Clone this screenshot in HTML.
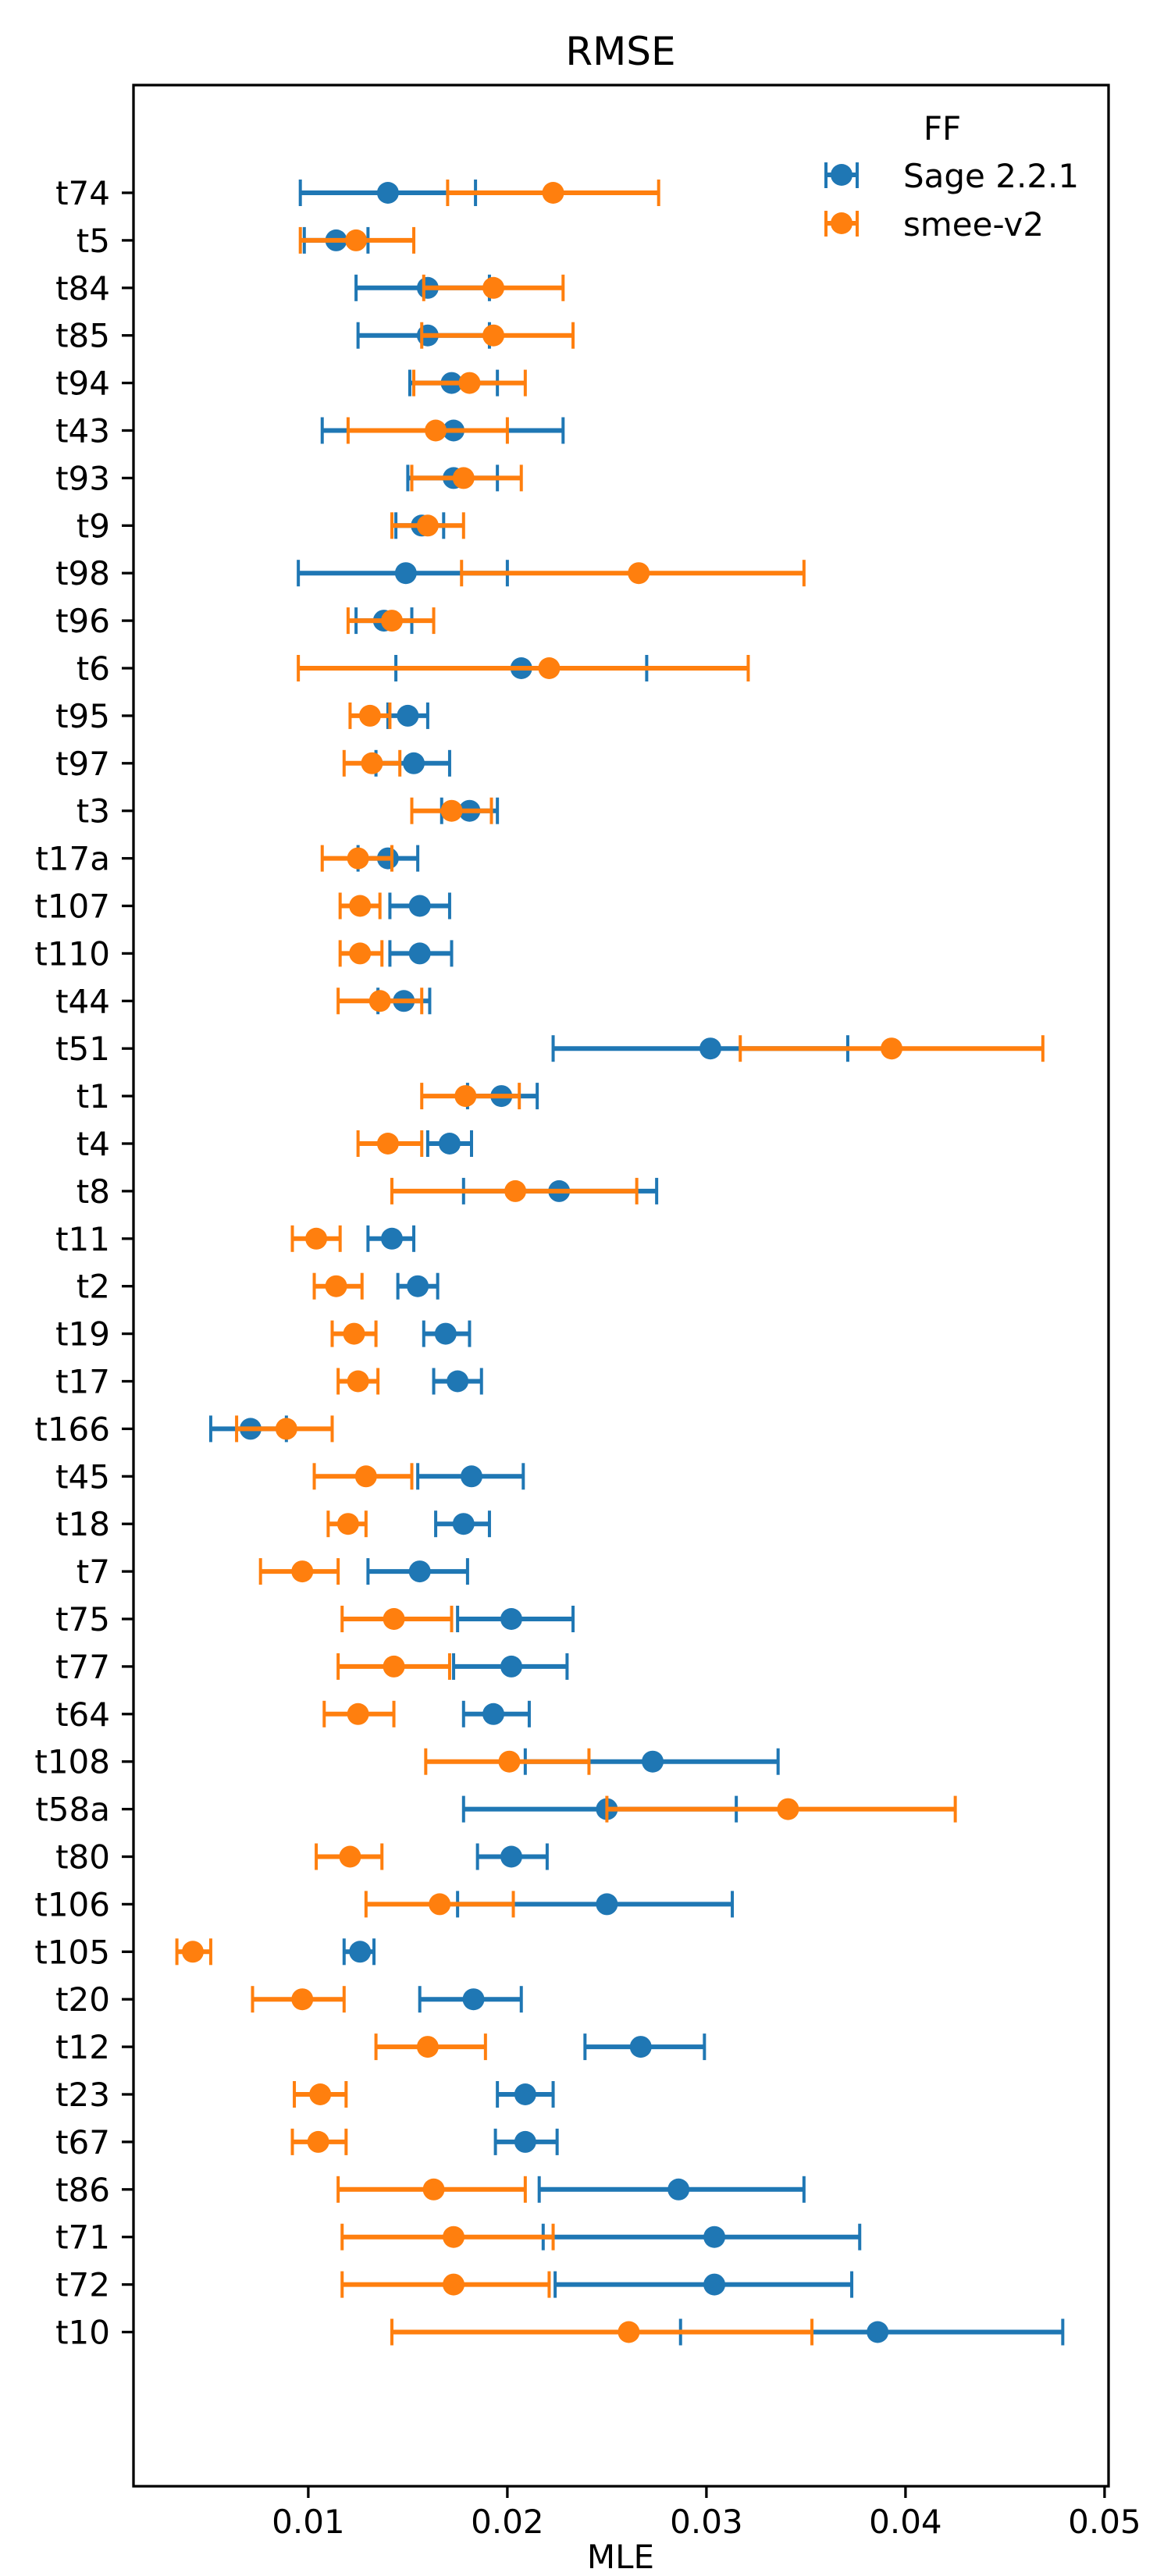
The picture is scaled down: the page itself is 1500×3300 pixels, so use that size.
<!DOCTYPE html>
<html><head><meta charset="utf-8"><style>
html,body{margin:0;padding:0;background:#fff;}
svg{display:block;font-family:"DejaVu Sans","Liberation Sans",sans-serif;}
</style></head><body>
<svg id="chart" width="1500" height="3300" viewBox="0 0 1500 3300" xmlns="http://www.w3.org/2000/svg">
<rect width="1500" height="3300" fill="#fff"/>
<text x="795" y="83" font-size="50" text-anchor="middle">RMSE</text>
<g id="marks"></g>
<g id="yaxis"></g>
<g id="xaxis"></g>
<rect x="171" y="109" width="1249" height="3076" fill="none" stroke="#000" stroke-width="3.3"/>
<text x="795" y="3290" font-size="42" text-anchor="middle">MLE</text>
<g>
<text x="1207" y="179" font-size="42" text-anchor="middle">FF</text>
<g>
<line x1="1057" y1="224" x2="1099" y2="224" stroke="#1f77b4" stroke-width="6"/>
<line x1="1058" y1="208" x2="1058" y2="241" stroke="#1f77b4" stroke-width="4"/>
<line x1="1098" y1="208" x2="1098" y2="241" stroke="#1f77b4" stroke-width="4"/>
<circle cx="1078" cy="224" r="14" fill="#1f77b4"/>
<text x="1157" y="240" font-size="42">Sage 2.2.1</text>
</g>
<g>
<line x1="1057" y1="286" x2="1099" y2="286" stroke="#ff7f0e" stroke-width="6"/>
<line x1="1058" y1="270" x2="1058" y2="303" stroke="#ff7f0e" stroke-width="4"/>
<line x1="1098" y1="270" x2="1098" y2="303" stroke="#ff7f0e" stroke-width="4"/>
<circle cx="1078" cy="286" r="14" fill="#ff7f0e"/>
<text x="1157" y="302" font-size="42">smee-v2</text>
</g>
</g>
</svg>
<script>
const categories = ["t74","t5","t84","t85","t94","t43","t93","t9","t98","t96","t6","t95","t97","t3","t17a","t107","t110","t44","t51","t1","t4","t8","t11","t2","t19","t17","t166","t45","t18","t7","t75","t77","t64","t108","t58a","t80","t106","t105","t20","t12","t23","t67","t86","t71","t72","t10"];
const sageMean = [14.0,11.4,16.0,16.0,17.2,17.3,17.3,15.7,14.9,13.8,20.7,15.0,15.3,18.1,14.0,15.6,15.6,14.8,30.2,19.7,17.1,22.6,14.2,15.5,16.9,17.5,7.1,18.2,17.8,15.6,20.2,20.2,19.3,27.3,25.0,20.2,25.0,12.6,18.3,26.7,20.9,20.9,28.6,30.4,30.4,38.6];
const sageLo = [9.6,9.8,12.4,12.5,15.1,10.7,15.0,14.4,9.5,12.4,14.4,14.0,13.4,16.7,12.5,14.1,14.1,13.5,22.3,18.0,16.0,17.8,13.0,14.5,15.8,16.3,5.1,15.5,16.4,13.0,17.5,17.3,17.8,20.9,17.8,18.5,17.5,11.8,15.6,23.9,19.5,19.4,21.6,21.8,22.4,28.7];
const sageHi = [18.4,13.0,19.1,19.1,19.5,22.8,19.5,16.8,20.0,15.2,27.0,16.0,17.1,19.5,15.5,17.1,17.2,16.1,37.1,21.5,18.2,27.5,15.3,16.5,18.1,18.7,8.9,20.8,19.1,18.0,23.3,23.0,21.1,33.6,31.5,22.0,31.3,13.3,20.7,29.9,22.3,22.5,34.9,37.7,37.3,47.9];
const smeeMean = [22.3,12.4,19.3,19.3,18.1,16.4,17.8,16.0,26.6,14.2,22.1,13.1,13.2,17.2,12.5,12.6,12.6,13.6,39.3,17.9,14.0,20.4,10.4,11.4,12.3,12.5,8.9,12.9,12.0,9.7,14.3,14.3,12.5,20.1,34.1,12.1,16.6,4.2,9.7,16.0,10.6,10.5,16.3,17.3,17.3,26.1];
const smeeLo = [17.0,9.6,15.8,15.7,15.3,12.0,15.2,14.2,17.7,12.0,9.5,12.1,11.8,15.2,10.7,11.6,11.6,11.5,31.7,15.7,12.5,14.2,9.2,10.3,11.2,11.5,6.4,10.3,11.0,7.6,11.7,11.5,10.8,15.9,25.0,10.4,12.9,3.4,7.2,13.4,9.3,9.2,11.5,11.7,11.7,14.2];
const smeeHi = [27.6,15.3,22.8,23.3,20.9,20.0,20.7,17.8,34.9,16.3,32.1,14.1,14.6,19.2,14.2,13.6,13.7,15.7,46.9,20.6,15.7,26.5,11.6,12.7,13.4,13.5,11.2,15.2,12.9,11.5,17.2,17.1,14.3,24.1,42.5,13.7,20.3,5.1,11.8,18.9,11.9,11.9,20.9,22.3,22.1,35.3];
const xTickValues = [0.01,0.02,0.03,0.04,0.05];
const xTickLabels = ["0.01","0.02","0.03","0.04","0.05"];

const NS = "http://www.w3.org/2000/svg";
const X0 = 171, X1 = 1420, VMIN = 0.00122, VMAX = 0.0502;
const BOTTOM = 3185;
function xScale(v){ return X0 + (v - VMIN) / (VMAX - VMIN) * (X1 - X0); }
function yScale(i){ return 247 + i * 60.9; }
function mk(tag, attrs){ const e = document.createElementNS(NS, tag); for (const k in attrs) e.setAttribute(k, attrs[k]); return e; }

const marks = document.getElementById("marks");
const series = [
  {key:"sage", color:"#1f77b4", mean:sageMean, lo:sageLo, hi:sageHi},
  {key:"smee", color:"#ff7f0e", mean:smeeMean, lo:smeeLo, hi:smeeHi}
];
series.forEach(s => {
  const g = mk("g", {});
  
  
  categories.forEach((c, i) => {
    const y = yScale(i);
    const xl = xScale(s.lo[i] / 1000), xh = xScale(s.hi[i] / 1000), xm = xScale(s.mean[i] / 1000);
    const bar = mk("line", {x1:xl, y1:y, x2:xh, y2:y, stroke:s.color, "stroke-width":6});
    
    
    g.appendChild(bar);
    [xl, xh].forEach(xc => {
      const cap = mk("line", {x1:xc, y1:y - 17, x2:xc, y2:y + 17, stroke:s.color, "stroke-width":4});
      
      
      g.appendChild(cap);
    });
    const pt = mk("circle", {cx:xm, cy:y, r:14, fill:s.color});
    
    
    g.appendChild(pt);
  });
  marks.appendChild(g);
});

const yaxis = document.getElementById("yaxis");
categories.forEach((c, i) => {
  const y = yScale(i);
  const t = mk("line", {x1:156, y1:y, x2:171, y2:y, stroke:"#000", "stroke-width":3.3});
  
  
  yaxis.appendChild(t);
  const lb = mk("text", {x:141, y:y + 15, "font-size":42, "text-anchor":"end"});
  
  
  lb.textContent = c;
  yaxis.appendChild(lb);
});

const xaxis = document.getElementById("xaxis");
xTickValues.forEach((v, i) => {
  const x = xScale(v);
  const t = mk("line", {x1:x, y1:BOTTOM, x2:x, y2:BOTTOM + 15, stroke:"#000", "stroke-width":3.3});
  
  
  xaxis.appendChild(t);
  const lb = mk("text", {x:x, y:BOTTOM + 60, "font-size":42, "text-anchor":"middle"});
  
  
  lb.textContent = xTickLabels[i];
  xaxis.appendChild(lb);
});
</script>
</body></html>
